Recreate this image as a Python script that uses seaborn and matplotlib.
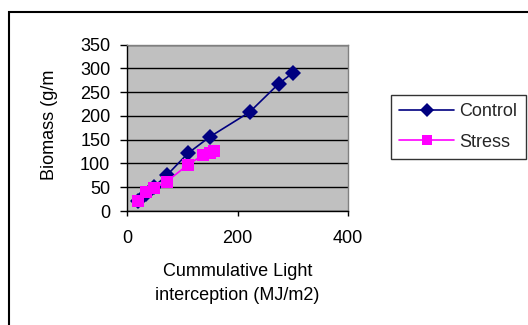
import matplotlib
matplotlib.use("Agg")
import matplotlib.pyplot as plt
import seaborn as sns
import pandas as pd
from matplotlib.patches import Rectangle
from matplotlib.lines import Line2D

control_x = [20, 35, 48, 72, 110, 150, 222, 275, 300]
control_y = [20, 35, 50, 75, 121, 156, 208, 268, 290]
stress_x = [20, 35, 48, 72, 110, 138, 150, 158]
stress_y = [20, 39, 48, 62, 97, 118, 122, 126]
series_names = ["Control", "Stress"]
x_ticks = [0, 200, 400]
y_ticks = [0, 50, 100, 150, 200, 250, 300, 350]

df = pd.concat([
    pd.DataFrame({"x": control_x, "y": control_y, "series": series_names[0]}),
    pd.DataFrame({"x": stress_x, "y": stress_y, "series": series_names[1]}),
])

sns.set_theme(style="white")
plt.rcParams["font.family"] = ["Liberation Sans", "DejaVu Sans"]
FS = 13

fig = plt.figure(figsize=(5.28, 3.25), dpi=100)
ax = fig.add_axes([127/528, 1-211.0/325, 221/528, 166.5/325])
ax.set_facecolor("#C0C0C0")

sns.lineplot(data=df, x="x", y="y", hue="series", style="series",
             palette={"Control": "#000080", "Stress": "#FF00FF"},
             markers={"Control": "D", "Stress": "s"},
             dashes=False, sort=False, ax=ax, markersize=8.5,
             markeredgewidth=0, linewidth=1.2, legend=False)

ax.set_xlim(0, 400)
ax.set_ylim(0, 350)
ax.set_xticks(x_ticks)
ax.set_yticks(y_ticks)
ax.set_xticklabels([str(v) for v in x_ticks], fontsize=FS)
ax.set_yticklabels([str(v) for v in y_ticks], fontsize=FS)
ax.yaxis.grid(True, color="black", linewidth=1)
ax.xaxis.grid(False)
ax.set_axisbelow(True)
for s in ax.spines.values():
    s.set_color("#808080")
    s.set_linewidth(1)
ax.spines["left"].set_color("black")
ax.spines["bottom"].set_color("black")
ax.tick_params(axis="y", direction="out", length=5, width=1, color="black",
               left=True, pad=7, labelcolor="black")
ax.tick_params(axis="x", direction="out", length=3.5, width=1, color="black",
               bottom=True, pad=10, labelcolor="black")
ax.set_xlabel("Cummulative Light\ninterception (MJ/m2)", fontsize=FS, color="black",
              linespacing=1.5)
ax.xaxis.set_label_coords(0.5, -0.315)
ax.set_ylabel("Biomass (g/m", fontsize=FS, color="black")
ax.yaxis.set_label_coords(-0.31, 0.52)

handles = [Line2D([], [], color="#000080", marker="D", markersize=7, markeredgewidth=0, lw=1.2),
           Line2D([], [], color="#FF00FF", marker="s", markersize=7, markeredgewidth=0, lw=1.2)]
leg = fig.legend(handles, series_names, loc="upper left",
                 bbox_to_anchor=(391/528, 1-95/325), fontsize=FS, frameon=True,
                 fancybox=False, edgecolor="black", borderpad=0.45, handlelength=3.05,
                 labelspacing=0.75, handletextpad=0.3, borderaxespad=0)
leg.get_frame().set_linewidth(1)

fig.add_artist(Rectangle((9/528, -0.2), 1.5, (325-12)/325 + 0.2,
                         transform=fig.transFigure, fill=False, lw=1.5, edgecolor="black"))

fig.savefig("out.png", dpi=100)
